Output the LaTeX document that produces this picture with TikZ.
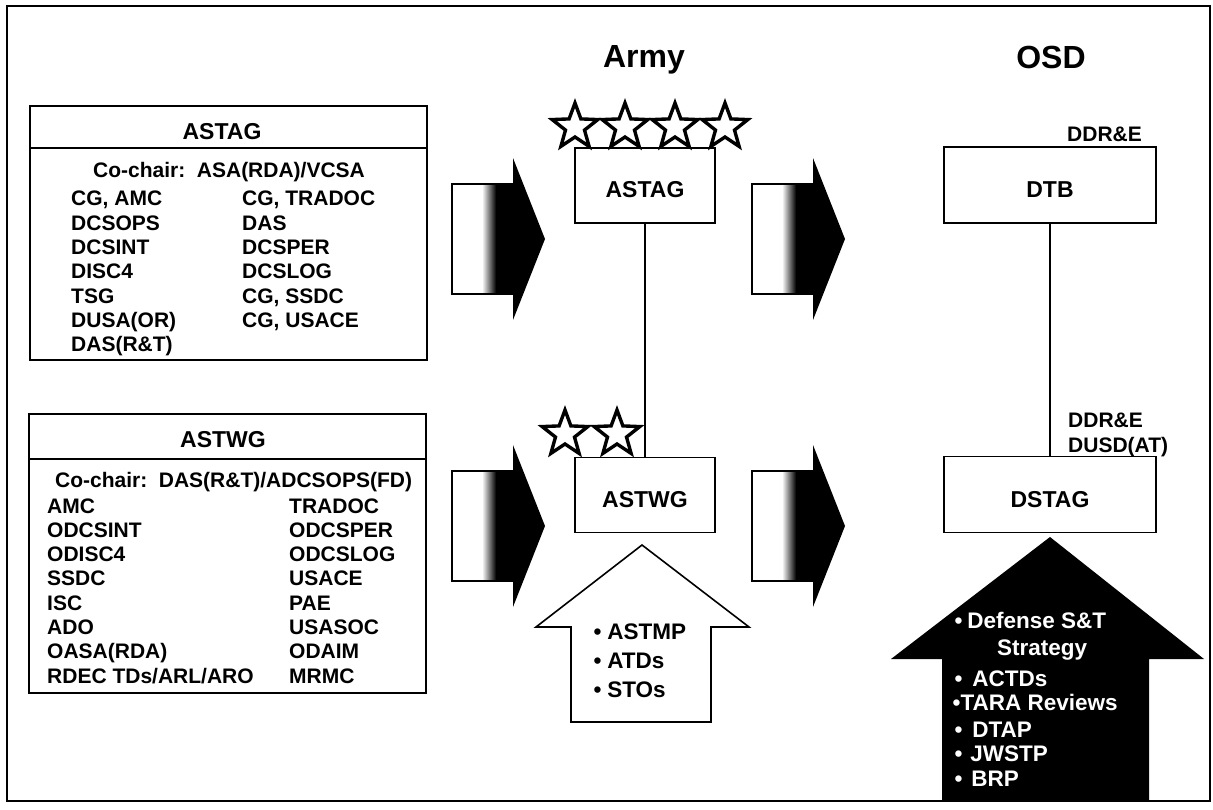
\documentclass[tikz,border=0pt]{standalone}
\usepackage{fontspec}
\setmainfont{Liberation Sans}
\usetikzlibrary{shapes.geometric}
\begin{document}
\begin{tikzpicture}[x=1pt,y=-1pt,
  box/.style={draw, line width=1.6pt, inner sep=0pt},
  obox/.style={box, minimum width=140pt, minimum height=75pt, text height=25pt, text depth=0pt, font=\fontsize{23}{26}\selectfont\bfseries},
  dbox/.style={box, minimum width=212pt, minimum height=76pt, text height=25pt, text depth=0pt, font=\fontsize{23}{26}\selectfont\bfseries},
  lbl/.style={anchor=base west, inner sep=0pt, font=\fontsize{21}{24}\selectfont\bfseries},
  hdr/.style={anchor=base, inner sep=0pt, font=\fontsize{23}{26}\selectfont\bfseries},
  ttl/.style={anchor=base, inner sep=0pt, font=\fontsize{32}{36}\selectfont\bfseries},
  blt/.style={anchor=base west, inner sep=0pt, font=\fontsize{22.5}{26}\selectfont\bfseries},
  starshape/.style={star, star points=5, star point ratio=2.4, draw, line width=3.4pt, line join=miter, fill=white, minimum size=48pt, inner sep=0pt},
  conn/.style={line width=2pt}
]
\useasboundingbox (0,0) rectangle (1213,810);
% frame
\draw[line width=2pt] (7,6) rectangle (1210,801);

% left boxes
\node[box, minimum width=397pt, minimum height=254pt] (lb1) at (228.5,233) {};
\draw[line width=1.6pt] (lb1.west |- 0,148) -- (lb1.east |- 0,148);
\node[hdr] (h1) at (222,140) {ASTAG};
\node[lbl] (c1) at (93,178) {Co-chair:\hspace{0.55em}ASA(RDA)/VCSA};
\foreach \t [count=\i] in {{CG, AMC},DCSOPS,DCSINT,DISC4,TSG,DUSA(OR),DAS(R\&T)}
  \node[lbl] (la\i) at (71,{206+24.3*(\i-1)}) {\t};
\foreach \t [count=\i] in {{CG, TRADOC},DAS,DCSPER,DCSLOG,{CG, SSDC},{CG, USACE}}
  \node[lbl] (ra\i) at (242,{206+24.3*(\i-1)}) {\t};

\node[box, minimum width=397pt, minimum height=279pt] (lb2) at (227.5,553.5) {};
\draw[line width=1.6pt] (lb2.west |- 0,459) -- (lb2.east |- 0,459);
\node[hdr] (h2) at (223,447) {ASTWG};
\node[lbl] (c2) at (55,487) {Co-chair:\hspace{0.55em}DAS(R\&T)/ADCSOPS(FD)};
\foreach \t [count=\i] in {AMC,ODCSINT,ODISC4,SSDC,ISC,ADO,OASA(RDA),RDEC TDs/ARL/ARO}
  \node[lbl] (lw\i) at (47,{513+24.3*(\i-1)}) {\t};
\foreach \t [count=\i] in {TRADOC,ODCSPER,ODCSLOG,USACE,PAE,USASOC,ODAIM,MRMC}
  \node[lbl] (rw\i) at (289,{513+24.3*(\i-1)}) {\t};

% gradient arrows
\foreach \ax/\ay in {452/239, 752/239, 452/526, 752/526}{
  \fill[black] (\ax+61,\ay-55) -- (\ax+61,\ay-81) -- (\ax+93,\ay) -- (\ax+61,\ay+81)
     -- (\ax+61,\ay+55) -- (\ax+42,\ay+55) -- (\ax+42,\ay-55) -- cycle;
  \shade[left color=white, right color=black] (\ax+30,\ay-55) rectangle (\ax+44,\ay+55);
  \draw[line width=1.4pt] (\ax+61,\ay-55) -- (\ax,\ay-55) -- (\ax,\ay+55) -- (\ax+61,\ay+55);
}

% titles
\node[ttl] (army) at (644,68) {Army};
\node[ttl] (osd) at (1051,69) {OSD};

% stars
\foreach \sx [count=\i] in {575,625,675,725}
  \node[starshape] (st\i) at (\sx,127) {};
\foreach \sx [count=\i] in {565,617}
  \node[starshape] (sw\i) at (\sx,434) {};

% army and OSD boxes
\node[obox] (astagA) at (645,185.5) {ASTAG};
\node[obox] (astwgA) at (645,495) {ASTWG};
\node[dbox] (dtb) at (1050,185) {DTB};
\node[dbox] (dstag) at (1050,494.5) {DSTAG};
\draw[conn] (astagA.south) -- (astwgA.north);
\draw[conn] (dtb.south) -- (dstag.north);

\node[lbl] (dd1) at (1067,142) {DDR\&E};
\node[lbl] (dd2) at (1068,427) {DDR\&E};
\node[lbl] (dd3) at (1068,452) {DUSD(AT)};

% white up arrow
\draw[line width=1.6pt, fill=white] (571,722) -- (571,627) -- (536,627) -- (642,545)
  -- (749,627) -- (711,627) -- (711,722) -- cycle;
\node[blt] (w1) at (593.5,639) {•\hspace{5.8pt}ASTMP};
\node[blt] (w2) at (593.5,668) {•\hspace{5.8pt}ATDs};
\node[blt] (w3) at (593.5,697) {•\hspace{5.8pt}STOs};

% black up arrow
\fill[black] (942,800) -- (942,659) -- (891,659) -- (1050,537) -- (1204,659)
  -- (1149,659) -- (1149,800) -- cycle;
\begin{scope}[every node/.style={text=white}]
\node[blt] (b1) at (954.5,628) {•\hspace{4.8pt}Defense S\&T};
\node[blt] (b2) at (997,655) {Strategy};
\node[blt] (b3) at (954.5,686) {•\hspace{9.8pt}ACTDs};
\node[blt] (b4) at (952.5,710) {•TARA Reviews};
\node[blt] (b5) at (954.5,737) {•\hspace{9.8pt}DTAP};
\node[blt] (b6) at (954.5,761) {•\hspace{7.8pt}JWSTP};
\node[blt] (b7) at (954.5,786) {•\hspace{8.8pt}BRP};
\end{scope}
\end{tikzpicture}
\end{document}
